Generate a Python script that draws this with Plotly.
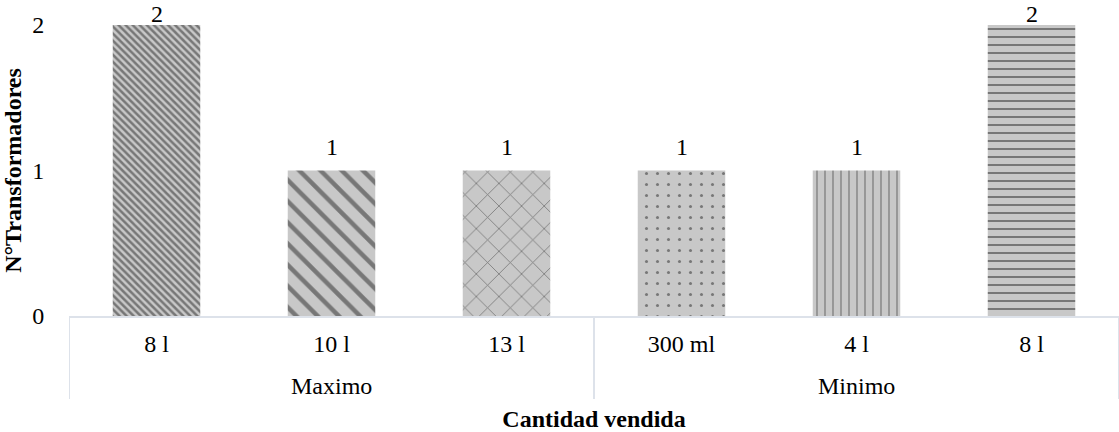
import plotly.graph_objects as go

groups = ["Maximo", "Maximo", "Maximo", "Minimo", "Minimo", "Minimo"]
# second "8 l" carries a zero-width space so the category axis keeps it distinct
cantidades = ["8 l", "10 l", "13 l", "300 ml", "4 l", "8 l\u200b"]
transformadores = [2, 1, 1, 1, 1, 2]
y_ticks = [0, 1, 2]

shapes = ["\\", "\\", "x", ".", "|", "-"]
sizes = [5, 15, 16, 11, 8, 8]
solid = [0.5, 0.3, 0.1, 0.06, 0.15, 0.25]

FONT = "Liberation Serif"
FS = 24
AXIS_GRAY = "#dde2ea"
YMAX = max(y_ticks)

fig = go.Figure()
fig.add_trace(go.Bar(
    x=cantidades,
    y=transformadores,
    width=0.5,
    marker=dict(
        color="#c8c8c8",
        line=dict(width=0),
        pattern=dict(shape=shapes, size=sizes, solidity=solid,
                     fgcolor="#777777", bgcolor="#c8c8c8", fillmode="replace"),
    ),
    cliponaxis=False,
    showlegend=False,
))

# value labels above bars (labels at the top of the range are pulled down to stay visible)
annotations = []
for c, v in zip(cantidades, transformadores):
    annotations.append(dict(x=c, y=v, xref="x", yref="y", text=str(v),
                            showarrow=False, yanchor="bottom",
                            yshift=9 if v < YMAX else -4,
                            font=dict(family=FONT, size=FS, color="black")))

# group labels and dividers (second category level)
shapes_list = []
n = len(groups)
start = 0
for i in range(1, n + 1):
    if i == n or groups[i] != groups[start]:
        mid = (start + i - 1) / 2
        annotations.append(dict(x=mid, y=-70 / 291, xref="x", yref="paper",
                                text=groups[start], showarrow=False, yanchor="middle",
                                font=dict(family=FONT, size=FS, color="black")))
        start = i
bounds = [-0.5] + [i - 0.5 for i in range(1, n) if groups[i] != groups[i - 1]] + [n - 0.5]
for b in bounds:
    shapes_list.append(dict(type="line", xref="x", yref="paper", x0=b, x1=b,
                            y0=0, y1=-83 / 291, line=dict(color=AXIS_GRAY, width=2)))

fig.update_layout(
    width=1119, height=432,
    margin=dict(l=69, r=0, t=25, b=116),
    paper_bgcolor="white", plot_bgcolor="white",
    font=dict(family=FONT, size=FS, color="black"),
    annotations=annotations,
    shapes=shapes_list,
)
fig.update_xaxes(
    type="category",
    range=[-0.5, n - 0.5],
    showline=True, linecolor=AXIS_GRAY, linewidth=2,
    showgrid=False,
    ticks="outside", ticklen=5, tickcolor="rgba(0,0,0,0)",
    tickfont=dict(family=FONT, size=FS, color="black"),
    title=dict(text="<b>Cantidad vendida</b>", font=dict(family=FONT, size=FS), standoff=57),
)
fig.update_yaxes(
    range=[0, 2],
    tickvals=y_ticks,
    showgrid=False, zeroline=False, showline=False,
    ticks="outside", ticklen=19, tickcolor="rgba(0,0,0,0)",
    tickfont=dict(family=FONT, size=FS, color="black"),
    title=dict(text="<b>N°Transformadores</b>", font=dict(family=FONT, size=FS), standoff=4),
)

fig.write_html("out.html")
